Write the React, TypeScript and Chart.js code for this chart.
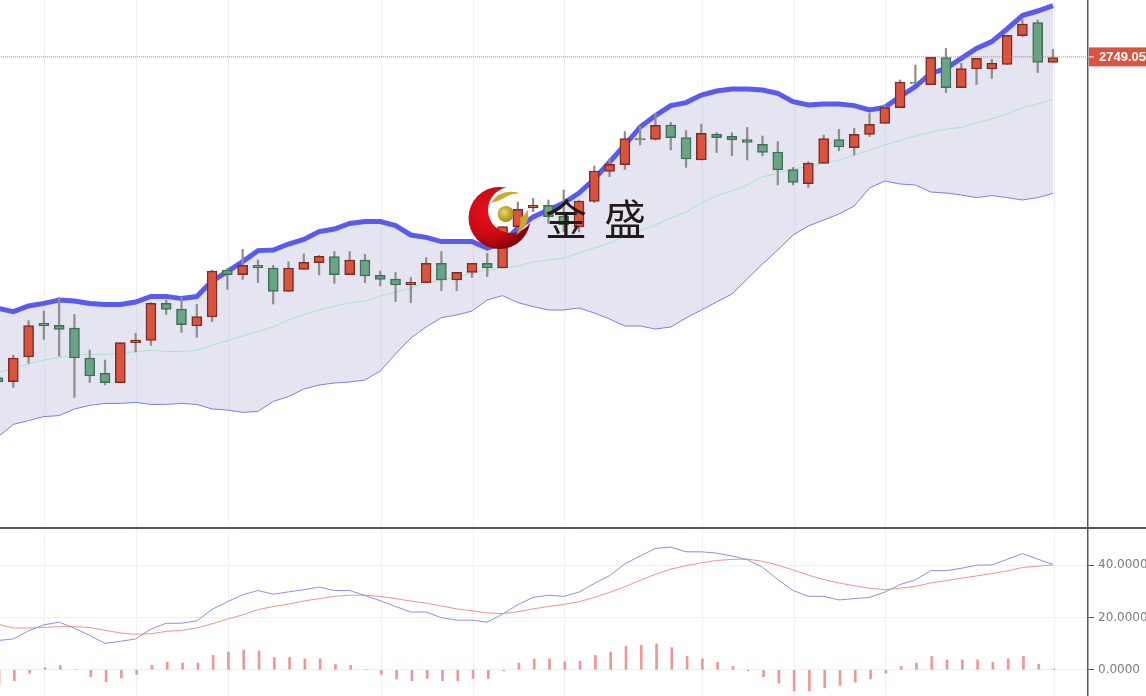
import React, { useEffect, useRef } from "react";
import { Chart, registerables } from "chart.js";

Chart.register(...registerables);

const open = [2588.7,2586.7,2599,2615.8,2614.8,2613.5,2598.5,2590.8,2586.2,2606.2,2607.3,2625.8,2623,2614.5,2619,2642.5,2640.2,2644.8,2643.5,2631.8,2642.8,2646.2,2649.2,2640.2,2647.5,2639.8,2638,2635,2636.2,2645.8,2637.5,2641.3,2645.8,2643.5,2664.2,2673.5,2674.8,2669.5,2664,2676.8,2691.8,2695.2,2708.2,2707.8,2715,2708.7,2697.5,2710.5,2709.3,2707.7,2705.3,2701.5,2692.7,2685.7,2695.8,2707.7,2703.7,2710.3,2715.8,2723.7,2736.3,2735.2,2748.7,2733.7,2743,2743,2745.3,2759.7,2766.2,2746.3];
const high = [2591.2,2599.8,2617.2,2622,2628.7,2620.3,2602.5,2597.5,2606.2,2610.8,2626.2,2627.5,2628.8,2625.3,2642.5,2643.3,2652.8,2647.5,2644.8,2646.6,2650.5,2649.8,2651.7,2651.7,2650.3,2642,2641.3,2638.7,2648.7,2651.7,2641.3,2645.8,2650.8,2664.2,2676.5,2678.3,2677.5,2682.5,2677.5,2694.5,2698.3,2711.7,2714.5,2720.8,2716.3,2712.2,2715.5,2711.2,2711.2,2713.8,2709.5,2706.7,2693.8,2696.7,2710,2712.8,2713.3,2720.8,2725.3,2737.5,2745,2748.8,2753.3,2745.8,2748.3,2747.8,2759.8,2767.5,2767.5,2752.8];
const low = [2581.2,2583.8,2595.8,2607.8,2599.5,2578.8,2586.2,2585,2586.2,2601.5,2604.8,2620.3,2611.2,2608.8,2616.7,2632.8,2637.8,2636.2,2625.5,2631.8,2642.8,2640,2635.8,2640.2,2636.2,2634.5,2626.7,2626.2,2636.2,2632.2,2632.2,2638.8,2639.2,2643.5,2664.2,2671.7,2665.8,2661.7,2661.5,2676.2,2689.2,2692.8,2705,2707.5,2702.5,2693.8,2697.5,2701.2,2699.7,2697.5,2699.5,2685,2685,2683.8,2695.8,2702.2,2700,2709.2,2715.8,2723.7,2735.8,2735.2,2731.2,2733.7,2735.2,2738.3,2745.3,2759.2,2741.2,2746.3];
const close = [2586.7,2598.5,2614.7,2614.5,2612.8,2598.5,2589.5,2586.2,2606.2,2607.5,2625.8,2622.8,2615.2,2619.2,2642,2640.2,2644.8,2643.5,2631.8,2643.5,2646.3,2649.3,2640.2,2647.5,2639.5,2637.8,2635,2636.3,2645.8,2637.5,2641.3,2645.8,2643.5,2664.2,2672.8,2674.8,2669.2,2665,2677,2692,2695.3,2708.2,2707.5,2714.8,2708.7,2698,2710.8,2708.7,2707.5,2706.3,2701.3,2692.5,2686.3,2696,2708.2,2704,2710.3,2715.3,2723.7,2736.5,2735.8,2748.8,2733.7,2743.2,2748.3,2746,2759.8,2765.5,2746.3,2748.7];

const bollUpper = [2623.3,2621.7,2624.5,2625.8,2627.5,2627,2625.8,2625.3,2625.3,2626.5,2629.3,2629.3,2628.2,2629.2,2637,2641.7,2646.7,2652.2,2652.5,2655.5,2657.8,2661.7,2663,2665.8,2666.7,2666.7,2664.7,2660,2658.8,2656.7,2656.7,2656.7,2653.5,2656,2663.5,2669,2672.5,2676,2681,2688,2696.5,2705,2714,2719.7,2724.7,2726.2,2730,2732,2733,2733,2732.5,2730.8,2726.7,2725,2725.5,2725.5,2724.7,2722.5,2723.8,2729.2,2734.2,2740.8,2743.3,2748.3,2753.3,2756.7,2763,2769.7,2772,2774.7];
const bollMiddle = [2591.3,2593.3,2595.5,2597.5,2598.8,2599.8,2600.3,2600.3,2600.7,2601.7,2602.3,2601.8,2601.8,2602.3,2604.8,2607.2,2609.5,2611.8,2614,2617.5,2620,2622.5,2624.5,2626,2627,2629.5,2631.5,2633.5,2636,2637.5,2639,2641,2642.5,2643.5,2644.5,2646.5,2647.5,2648.5,2651,2653.5,2656,2659.5,2662,2665,2668.5,2671.5,2676,2679.5,2682,2685,2689,2691,2693,2694.2,2696,2697.5,2700,2702.5,2705,2707.2,2709.5,2711.5,2713,2713.8,2716,2718,2720.5,2723.7,2725.5,2727.8];
const bollLower = [2559,2565.3,2567.2,2569.2,2569.7,2573,2574.8,2575.8,2575.8,2576.3,2575.3,2575.3,2575.8,2575.3,2573,2572.5,2571.3,2571.8,2576.8,2579.2,2583,2585,2586,2586.5,2587.5,2592,2600.5,2608.5,2614,2618.7,2620,2622,2627.5,2629.7,2626.2,2624.2,2622.5,2622.5,2623.5,2621,2618,2614.5,2614.5,2613,2614,2618.5,2622.5,2626.5,2630.5,2638,2645.5,2652.5,2660,2664.5,2667.5,2670.5,2674.5,2683.5,2687,2685.5,2685,2681.5,2681,2680,2678.7,2679.7,2678.7,2677.5,2678.7,2680.8];

const macdDif = [11.2,11.8,14.9,17.2,18.2,15.9,13.1,10.1,10.9,11.8,15.6,17.8,17.8,18.7,23.1,26,28.7,30.3,28.9,29.8,30.6,31.6,30.3,30.3,28.4,26.4,24.2,22.1,22.1,19.9,19,19,18.2,21.3,24.9,27.7,28.5,28.1,29.7,33,36,40.5,43.5,46.4,46.9,45.1,45.1,44.6,43.5,42.1,39.2,34.5,30.3,28.1,28.1,26.7,27.2,27.7,29.7,32.6,34.4,37.9,37.9,38.8,40,40.1,42.2,44.4,42.3,40.3];
const macdDea = [17.4,16,16,16.2,16.5,16.5,16.2,15.1,14.1,13.6,13.8,14.7,15.1,16,17.6,19.4,21,23,24.2,25.1,26.3,27.2,28.1,28.5,28.5,28.1,27.2,26.3,25.5,24.4,23.3,22.6,21.7,21.5,22.2,23.3,24.2,25,26,27.7,29.6,31.8,34.2,36.5,38.5,39.8,40.9,41.8,42.2,42.3,41.5,40,38.2,36.2,34.5,33.2,32.1,31.2,30.6,31.2,31.9,33.2,34.1,35,35.9,36.8,37.8,39.1,39.6,40.1];
const macdHist = [-5.9,-4.2,-1.3,0.8,1.7,0,-2.6,-4.6,-3.1,-1.7,1.7,2.9,2.6,2.6,5.5,6.8,7.6,7.2,4.7,4.7,4.2,4.2,2.1,1.7,0,-1.7,-3.5,-4.2,-3.3,-4.2,-4.2,-3.3,-3.3,-0.4,2.6,4.2,4.2,3.1,3.3,5.5,6.8,9,9.4,9.9,8.5,5.1,4.2,2.9,1.3,-0.4,-2.6,-5.1,-8.1,-8.1,-6.9,-6,-4.7,-3.5,-1.3,1.3,2.6,5.1,3.8,3.8,3.8,2.9,4.2,5.1,2.1,0.4];

const firstIndex = -1;
const histShift = 0.07;
const gridIndices = [2.07, 8.07, 14.07, 24.07, 30.07, 36.07, 45.07, 51.07, 57.07, 68.07];
const macdTicks = [0, 20, 40];
const lastPrice = 2749.05;
const lastPriceLabel = "2749.05";
const brandChars = ["金", "盛"];

const RED = "#d9533f";
const RED_EDGE = "#7d2c22";
const GREEN = "#6ba385";
const GREEN_EDGE = "#3f6e59";
const AXIS = "#55585c";
const GRID = "#edf1f6";

const xOf = (i: number) => i + firstIndex;

export default function App() {
  const ref = useRef<HTMLCanvasElement | null>(null);
  useEffect(() => {
    if (!ref.current) return;
    const rising = open.map((o, i) => close[i] >= o);
    const line = (data: number[], color: string, width: number, yAxisID: string, order: number, extra = {}) => ({
      type: "line" as const,
      data: data.map((y, i) => ({ x: xOf(i), y })),
      borderColor: color,
      borderWidth: width,
      pointRadius: 0,
      tension: 0,
      fill: false,
      yAxisID,
      order,
      ...extra,
    });
    const overlay = {
      id: "overlay",
      afterDraw(chart: any) {
        const { ctx, scales } = chart;
        const yP = scales.y;
        const right = yP.left;
        ctx.save();
        ctx.strokeStyle = AXIS;
        ctx.lineWidth = 2;
        const sep = Math.round(yP.bottom);
        ctx.beginPath();
        ctx.moveTo(0, sep);
        ctx.lineTo(chart.width, sep);
        ctx.stroke();
        const py = yP.getPixelForValue(lastPrice);
        ctx.fillStyle = RED;
        ctx.fillRect(right + 1, py - 9.5, chart.width - right, 19);
        ctx.strokeStyle = "#ffffff";
        ctx.lineWidth = 1;
        ctx.beginPath();
        ctx.moveTo(right + 1, py);
        ctx.lineTo(right + 6, py);
        ctx.stroke();
        ctx.fillStyle = "#ffffff";
        ctx.font = "bold 13px 'Liberation Sans'";
        ctx.textBaseline = "middle";
        ctx.textAlign = "left";
        ctx.fillText(lastPriceLabel, right + 11, py + 0.5);
        ctx.restore();
      },
    };
    const noPad = (s: any) => {
      s.width = 58;
      s.paddingTop = 0;
      s.paddingBottom = 0;
    };
    const chart = new Chart(ref.current, {
      type: "bar",
      data: {
        datasets: [
          {
            type: "bar",
            data: open.map((o, i) => ({ x: xOf(i), y: [o, close[i]] })),
            backgroundColor: rising.map((r) => (r ? RED : GREEN)),
            borderColor: rising.map((r) => (r ? RED_EDGE : GREEN_EDGE)),
            borderWidth: 1.5,
            borderSkipped: false,
            barThickness: 10,
            grouped: false,
            yAxisID: "y",
            order: 1,
          },
          {
            type: "bar",
            data: high.map((h, i) => ({ x: xOf(i), y: [low[i], h] })),
            backgroundColor: "#8f8f8f",
            barThickness: 1.6,
            grouped: false,
            yAxisID: "y",
            order: 2,
          },
          line(bollMiddle, "#a6e2cc", 1, "y", 3),
          line(bollUpper, "#5a5af0", 5, "y", 4),
          line(bollLower, "#7d7dea", 1, "y", 5),
          line(bollUpper, "rgba(0,0,0,0)", 0, "y", 6, {
            fill: "-1",
            backgroundColor: "rgba(100,100,170,0.17)",
          }),
          {
            type: "line",
            data: [
              { x: -5, y: lastPrice },
              { x: 80, y: lastPrice },
            ],
            borderColor: "#d9695e",
            borderWidth: 1,
            borderDash: [1, 1],
            pointRadius: 0,
            yAxisID: "y",
            order: 0,
          },
          {
            type: "bar",
            data: macdHist.map((y, i) => ({ x: xOf(i) + histShift, y })),
            backgroundColor: "#ee9797",
            barThickness: 2,
            grouped: false,
            yAxisID: "m",
            order: 9,
          },
          line(macdDea, "#ee9292", 1, "m", 8),
          line(macdDif, "#8f8fe2", 1, "m", 7),
        ] as any,
      },
      options: {
        responsive: false,
        animation: false,
        layout: { padding: 0 },
        plugins: { legend: { display: false }, tooltip: { enabled: false }, title: { display: false } },
        scales: {
          x: {
            type: "linear",
            offset: false,
            min: -0.87,
            max: 70.29,
            border: { display: false },
            grid: { color: GRID, lineWidth: 1, drawTicks: false, offset: false },
            ticks: { display: false },
            afterBuildTicks(s: any) {
              s.ticks = gridIndices.map((value) => ({ value }));
            },
          },
          y: {
            type: "linear",
            position: "right",
            stack: "panes",
            stackWeight: 528,
            min: 2513.5,
            max: 2777.5,
            border: { display: true, color: AXIS, width: 1.5 },
            grid: { display: false },
            ticks: { display: false },
            afterFit: noPad,
          },
          m: {
            type: "linear",
            position: "right",
            stack: "panes",
            stackWeight: 168,
            min: -10,
            max: 54.2,
            border: { display: true, color: AXIS, width: 1.5 },
            grid: { color: GRID, lineWidth: 1, tickColor: AXIS, tickLength: 6 },
            ticks: {
              color: "#7c7c7c",
              font: { family: "'DejaVu Sans'", size: 12 },
              padding: 4,
              callback: (v: any) => Number(v).toFixed(4),
            },
            afterBuildTicks(s: any) {
              s.ticks = macdTicks.map((value) => ({ value }));
            },
            afterFit: noPad,
          },
        },
      } as any,
      plugins: [overlay],
    });
    return () => chart.destroy();
  }, []);
  return (
    <div style={{ position: "fixed", left: 0, top: 0, width: 1146, height: 696, overflow: "hidden", background: "#fff" }}>
      <canvas ref={ref} width={1146} height={696} style={{ display: "block", width: 1146, height: 696, filter: "blur(0.4px)" }} />
      <svg width={1146} height={696} style={{ position: "absolute", left: 0, top: 0 }}>
        <defs>
          <radialGradient id="cres" cx="0.35" cy="0.4" r="0.7">
            <stop offset="0" stopColor="#f0101c" />
            <stop offset="0.6" stopColor="#c40a14" />
            <stop offset="1" stopColor="#6e0008" />
          </radialGradient>
          <radialGradient id="ball" cx="0.4" cy="0.4" r="0.6">
            <stop offset="0" stopColor="#ecd860" />
            <stop offset="1" stopColor="#a88a18" />
          </radialGradient>
          <mask id="hole">
            <rect width="1146" height="696" fill="#fff" />
            <circle cx="511" cy="210" r="23" fill="#000" />
          </mask>
        </defs>
        <circle cx="499.5" cy="218" r="31" fill="url(#cres)" mask="url(#hole)" />
        <circle cx="505.7" cy="214" r="8" fill="url(#ball)" />
        <path d="M491 203 Q500 188 520 193 Q509 194 504 198 Q497 202 491 203 Z" fill="#c9a832" />
        <path d="M528 210 Q530 226 516 235 Q522 224 520 218 Q525 215 528 210 Z" fill="#c9a832" />
        <text x="545" y="235" fontFamily="'Noto Sans CJK SC'" fontSize="42" fill="#241a18">{brandChars[0]}</text>
        <text x="604" y="235" fontFamily="'Noto Sans CJK SC'" fontSize="42" fill="#241a18">{brandChars[1]}</text>
      </svg>
    </div>
  );
}
